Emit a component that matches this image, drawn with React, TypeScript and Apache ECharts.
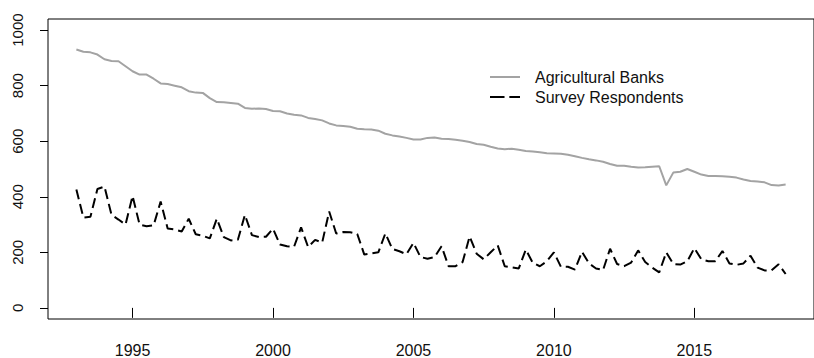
import React, { useEffect, useRef } from "react";
import * as echarts from "echarts";

const START_YEAR = 1993;
const PERIODS_PER_YEAR = 4;

// Quarterly counts, 1993Q1 .. 2018Q2
const agriculturalBanks: number[] = [
  930, 922, 920, 912,
  895, 889, 888, 870,
  852, 840, 840, 825,
  808, 806, 800, 794,
  780, 775, 774, 755,
  741, 740, 738, 735,
  720, 717, 718, 716,
  709, 708, 700, 695,
  693, 684, 680, 675,
  664, 657, 655, 652,
  645, 643, 642, 638,
  627, 621, 617, 612,
  606, 606, 612, 613,
  609, 608, 605, 602,
  597, 590, 587, 580,
  574, 571, 573, 569,
  565, 563, 560, 557,
  556, 555, 551, 546,
  540, 535, 531, 526,
  518, 512, 512, 508,
  505, 506, 508, 510,
  441, 487, 490, 500,
  490, 480, 475, 475,
  474, 472, 469, 462,
  457, 455, 452, 442,
  441, 444,
];

const surveyRespondents: number[] = [
  426, 325, 328, 428,
  437, 335, 318, 300,
  403, 300, 294, 297,
  383, 286, 282, 275,
  321, 265, 260, 250,
  321, 255, 243, 245,
  335, 262, 255, 256,
  285, 228, 222, 220,
  290, 219, 245, 235,
  347, 268, 273, 272,
  266, 192, 196, 200,
  268, 212, 204, 193,
  234, 183, 177, 183,
  222, 150, 150, 165,
  257, 195, 175, 200,
  225, 150, 146, 142,
  210, 162, 150, 168,
  200, 148, 148, 138,
  202, 160, 142, 136,
  213, 158, 150, 163,
  207, 165, 145, 128,
  200, 158, 156, 168,
  215, 175, 168, 168,
  205, 160, 155, 160,
  188, 145, 135, 135,
  157, 122,
];

const xTickValues = [1995, 2000, 2005, 2010, 2015];
const yTickValues = [0, 200, 400, 600, 800, 1000];

const toPairs = (vals: number[]) =>
  vals.map((v, i) => [START_YEAR + i / PERIODS_PER_YEAR, v]);

export default function App() {
  const ref = useRef<HTMLDivElement>(null);

  useEffect(() => {
    if (!ref.current) return;
    const chart = echarts.init(ref.current, null, { renderer: "svg" });
    const font = "'Liberation Sans', Arial, sans-serif";
    chart.setOption({
      animation: false,
      backgroundColor: "#ffffff",
      grid: {
        left: 48,
        top: 19,
        width: 773,
        height: 300,
        show: true,
        borderColor: "#000",
        borderWidth: 1,
        backgroundColor: "transparent",
      },
      legend: {
        show: true,
        orient: "vertical",
        left: 490,
        top: 69,
        padding: 0,
        itemWidth: 30,
        itemHeight: 2,
        itemGap: 4,
        textStyle: { fontFamily: font, fontSize: 16, color: "#111", padding: [0, 0, 0, 10] },
        data: [
          { name: "Agricultural Banks", icon: "rect" },
          { name: "Survey Respondents", icon: "path://M0,0h15v2h-15z M20,0h11v2h-11z" },
        ],
      },
      xAxis: {
        type: "value",
        min: 1991.99,
        max: 2019.26,
        axisLine: { show: false },
        splitLine: { show: false },
        axisTick: {
          show: true,
          customValues: xTickValues,
          length: 10,
          lineStyle: { color: "#000", width: 1 },
        },
        axisLabel: {
          customValues: xTickValues,
          margin: 23,
          fontFamily: font,
          fontSize: 16,
          color: "#111",
          formatter: (v: number) => String(v),
        },
      },
      yAxis: {
        type: "value",
        min: -40,
        max: 1040,
        axisLine: { show: false },
        splitLine: { show: false },
        axisTick: {
          show: true,
          customValues: yTickValues,
          length: 8,
          lineStyle: { color: "#000", width: 1 },
        },
        axisLabel: {
          customValues: yTickValues,
          rotate: 90,
          margin: 23,
          fontFamily: font,
          fontSize: 15,
          color: "#111",
          formatter: (v: number) => String(v),
        },
      },
      series: [
        {
          name: "Agricultural Banks",
          type: "line",
          data: toPairs(agriculturalBanks),
          showSymbol: false,
          symbol: "none",
          lineStyle: { color: "#a3a3a3", width: 2 },
          itemStyle: { color: "#a3a3a3" },
        },
        {
          name: "Survey Respondents",
          type: "line",
          data: toPairs(surveyRespondents),
          showSymbol: false,
          symbol: "none",
          lineStyle: { color: "#000", width: 2, type: [10, 5] },
          itemStyle: { color: "#000" },
        },
      ],
    });
    return () => chart.dispose();
  }, []);

  return (
    <div
      ref={ref}
      style={{ position: "absolute", left: 0, top: 0, width: 814, height: 358 }}
    />
  );
}
